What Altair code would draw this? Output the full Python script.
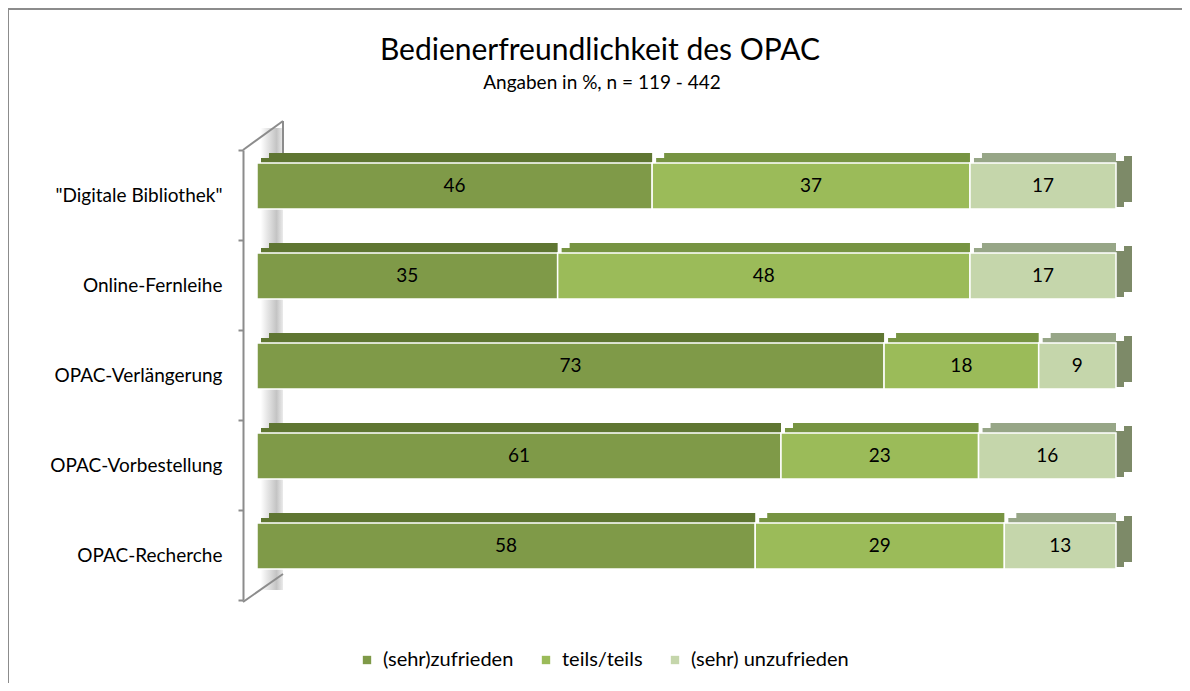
import altair as alt
import pandas as pd

categories = ['"Digitale Bibliothek"', "Online-Fernleihe ", "OPAC-Verlängerung", "OPAC-Vorbestellung ", "OPAC-Recherche"]
series = ["(sehr)zufrieden", "teils/teils", "(sehr) unzufrieden"]
zufrieden = [46, 35, 73, 61, 58]
teils = [37, 48, 18, 23, 29]
unzufrieden = [17, 17, 9, 16, 13]

title_text = "Bedienerfreundlichkeit des OPAC"
subtitle_text = "Angaben in %, n = 119 - 442"

front_colors = ["#7F9A48", "#9BBB59", "#C5D6AB"]
top_colors = ["#5F7632", "#779442", "#97A687"]
side_color = "#7D8A68"

rows = []
for i, c in enumerate(categories):
    start = 0
    for s, vals in zip(series, [zufrieden, teils, unzufrieden]):
        v = vals[i]
        rows.append({"cat": c, "series": s, "value": v,
                     "start": start, "end": start + v, "mid": start + v / 2})
        start += v
df = pd.DataFrame(rows)
last = df[df["series"] == series[-1]]

FONT = "Lato"
W, H = 859, 450
PL, PT = 249, 142
GRAY = "#8C8C8C"

xs = alt.Scale(domain=[0, 100], nice=False, zero=False)
ys = alt.Scale(domain=categories, paddingInner=0, paddingOuter=0)

base = alt.Chart(df)

yenc = alt.Y("cat:N", scale=ys, sort=categories, title=None,
             axis=alt.Axis(labelFont=FONT, labelFontSize=19, labelColor="#000000",
                           labelPadding=16, offset=14, tickBand="extent",
                           domainColor=GRAY, tickColor=GRAY, tickSize=5,
                           domainWidth=2, tickWidth=2, grid=False))
xenc = alt.X("start:Q", scale=xs, axis=None)

one = alt.Chart(pd.DataFrame({"a": [0]}))

wall = one.mark_rect(
    fill=alt.LinearGradient(gradient="linear", x1=0, x2=1, y1=0, y2=0,
                            stops=[alt.GradientStop(color="#FFFFFF", offset=0),
                                   alt.GradientStop(color="#FFFFFF", offset=0.3),
                                   alt.GradientStop(color="#C4C4C4", offset=0.8),
                                   alt.GradientStop(color="#EBEBEB", offset=1)])).encode(
    x=alt.value(-6), x2=alt.value(26), y=alt.value(-22), y2=alt.value(440))
wall_top = one.mark_rule(color=GRAY, strokeWidth=2).encode(
    x=alt.value(-14), y=alt.value(0), x2=alt.value(26), y2=alt.value(-29))
wall_bottom = one.mark_rule(color=GRAY, strokeWidth=2).encode(
    x=alt.value(-14), y=alt.value(452), x2=alt.value(26), y2=alt.value(424))
wall_right = one.mark_rule(color=GRAY, strokeWidth=2).encode(
    x=alt.value(26), y=alt.value(-29), y2=alt.value(20))

top1 = base.mark_bar(size=5, yOffset=-34.5, xOffset=4).encode(
    x=xenc, x2="end:Q", y=yenc,
    color=alt.Color("series:N", scale=alt.Scale(domain=series, range=top_colors), legend=None))
top2 = base.mark_bar(size=5, yOffset=-39.5, xOffset=12).encode(
    x=xenc, x2="end:Q", y=yenc,
    color=alt.Color("series:N", scale=alt.Scale(domain=series, range=top_colors), legend=None))
tops = alt.layer(top1, top2)

side1 = alt.Chart(last).mark_bar(size=46, yOffset=-11, x2Offset=8, color=side_color).encode(
    x=alt.X("end:Q", scale=xs, axis=None), x2="end:Q", y=yenc)
side2 = alt.Chart(last).mark_bar(size=46, yOffset=-16, xOffset=8, x2Offset=16, color=side_color).encode(
    x=alt.X("end:Q", scale=xs, axis=None), x2="end:Q", y=yenc)

front = base.mark_bar(size=46, yOffset=-9, stroke="#FFFFFF", strokeWidth=1.5).encode(
    x=xenc, x2="end:Q", y=yenc,
    color=alt.Color("series:N", scale=alt.Scale(domain=series, range=front_colors),
                    sort=series, title=None,
                    legend=alt.Legend(orient="none", direction="horizontal",
                                      legendX=100, legendY=500,
                                      symbolType="square", symbolSize=70,
                                      symbolStrokeWidth=0,
                                      labelFont=FONT, labelFontSize=20,
                                      labelColor="#000000", columnPadding=22,
                                      labelOffset=6, labelLimit=300)))

labels = base.mark_text(font=FONT, fontSize=19, color="#000000", yOffset=-9).encode(
    x=alt.X("mid:Q", scale=xs, axis=None), y=yenc, text="value:Q")

frame_top = one.mark_rule(color=GRAY, strokeWidth=2).encode(
    x=alt.value(-PL), x2=alt.value(W + 200), y=alt.value(-PT + 1))
frame_left = one.mark_rule(color=GRAY, strokeWidth=2).encode(
    x=alt.value(-PL), y=alt.value(-PT + 1), y2=alt.value(H + 200))

title = one.mark_text(font=FONT, fontSize=30, color="#000000", align="center",
                      baseline="alphabetic").encode(
    x=alt.value(600 - 8 - PL), y=alt.value(60 - 8 - PT), text=alt.value(title_text))
subtitle = one.mark_text(font=FONT, fontSize=19, color="#000000", align="center",
                         baseline="alphabetic").encode(
    x=alt.value(602 - 8 - PL), y=alt.value(89 - 8 - PT), text=alt.value(subtitle_text))

chart = alt.layer(wall, wall_top, wall_bottom, wall_right, tops, side1, side2, front, labels,
                  frame_top, frame_left, title, subtitle).resolve_scale(
    color="independent").properties(
    width=W, height=H,
    background="#FFFFFF",
    autosize=alt.AutoSizeParams(type="none"),
    padding={"left": PL, "top": PT, "right": 1174 - PL - W, "bottom": 675 - PT - H},
).configure_view(strokeWidth=0, stroke="transparent")

chart.save("out.html", embed_options={"renderer": "svg", "actions": False})
